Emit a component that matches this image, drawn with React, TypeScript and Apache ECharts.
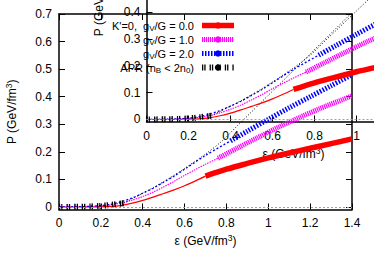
import React, { useEffect, useRef } from "react";
import * as echarts from "echarts";

type Pt = [number, number];

// ---- tick labels ----
const xTickValues = [0, 0.2, 0.4, 0.6, 0.8, 1, 1.2, 1.4];
const mainYTickValues = [0, 0.1, 0.2, 0.3, 0.4, 0.5, 0.6, 0.7];
const insetYTickValues = [0, 0.1, 0.2, 0.3, 0.4, 0.5, 0.6, 0.7, 0.8];

// ---- legend ----
const legendNames = ["K'=0,  gV/G = 0.0", "gV/G = 1.0", "gV/G = 2.0", "APR (nB < 2n0)"];
const legendLabels = ["K'=0,  g{s|V}/G = 0.0", "g{s|V}/G = 1.0", "g{s|V}/G = 2.0", "APR (n{s|B} < 2n{s|0})"];

// ---- series values (epsilon [GeV/fm^3], P [GeV/fm^3]) ----
const gv0Thin: Pt[] = [[0, 0], [0.1, 0], [0.2, 0.001], [0.25, 0.002], [0.3, 0.006], [0.35, 0.014], [0.4, 0.024], [0.45, 0.036], [0.5, 0.049], [0.55, 0.062], [0.6, 0.077], [0.65, 0.094], [0.7, 0.112]];
const gv0Thick: Pt[] = [[0.7, 0.112], [0.8, 0.137], [0.9, 0.158], [1.0, 0.178], [1.1, 0.196], [1.2, 0.213], [1.3, 0.23], [1.4, 0.247]];
const gv1Thin: Pt[] = [[0, 0], [0.1, 0.001], [0.2, 0.004], [0.25, 0.008], [0.3, 0.015], [0.35, 0.025], [0.4, 0.038], [0.45, 0.054], [0.5, 0.073], [0.55, 0.093], [0.6, 0.115], [0.65, 0.135], [0.7, 0.155], [0.76, 0.177]];
const gv1Thick: Pt[] = [[0.76, 0.177], [0.85, 0.213], [0.95, 0.252], [1.05, 0.29], [1.15, 0.325], [1.25, 0.358], [1.4, 0.403]];
const gv2Thin: Pt[] = [[0, 0], [0.1, 0.001], [0.2, 0.005], [0.25, 0.01], [0.3, 0.02], [0.35, 0.033], [0.4, 0.05], [0.45, 0.068], [0.5, 0.09], [0.55, 0.112], [0.6, 0.137], [0.7, 0.187], [0.82, 0.24]];
const gv2Thick: Pt[] = [[0.82, 0.24], [0.9, 0.275], [1.0, 0.318], [1.1, 0.36], [1.2, 0.4], [1.3, 0.44], [1.4, 0.48]];
const aprLow: Pt[] = [[0, 0], [0.1, 0.001], [0.15, 0.002], [0.2, 0.004], [0.25, 0.008], [0.31, 0.014]];
const aprHigh: Pt[] = [[0.31, 0.014], [0.35, 0.03], [0.4, 0.05], [0.45, 0.07], [0.5, 0.092], [0.55, 0.115], [0.6, 0.14], [0.7, 0.192], [0.78, 0.24], [0.85, 0.293], [0.92, 0.345], [1.0, 0.405], [1.1, 0.48], [1.2, 0.555], [1.3, 0.63], [1.4, 0.705], [1.45, 0.74]];

const FONT = "'Liberation Sans', Arial, Helvetica, sans-serif";

const styles: Record<string, { color: string; width: number; type: any }> = {
  gv0Thin: { color: "#ff0000", width: 1.2, type: "solid" },
  gv0Thick: { color: "#ff0000", width: 5.5, type: "solid" },
  gv1Thin: { color: "#ff00ff", width: 1.2, type: [1.5, 1] },
  gv1Thick: { color: "#ff00ff", width: 5, type: [1.2, 0.8] },
  gv2Thin: { color: "#0000ff", width: 1.3, type: [2, 2] },
  gv2Thick: { color: "#0000ff", width: 5, type: [1.5, 1.5] },
  aprLow: { color: "#000000", width: 6, type: [1.3, 1, 1.3, 4] },
  aprHigh: { color: "#000000", width: 1, type: [1, 2] },
};

const zeroLine = {
  silent: true,
  symbol: "none",
  label: { show: false },
  lineStyle: { color: "#a0a0a0", type: [2, 2], width: 1 },
  data: [{ yAxis: 0 }],
};

function makeSeries(axis: number, prefix: string) {
  const defs: [string, Pt[], string | null][] = [
    ["gv0Thin", gv0Thin, null],
    ["gv1Thin", gv1Thin, null],
    ["gv2Thin", gv2Thin, null],
    ["aprHigh", aprHigh, null],
    ["gv0Thick", gv0Thick, legendNames[0]],
    ["gv1Thick", gv1Thick, legendNames[1]],
    ["gv2Thick", gv2Thick, legendNames[2]],
    ["aprLow", aprLow, legendNames[3]],
  ];
  return defs.map(([key, data, lname], i) => {
    const s = styles[key];
    const out: any = {
      type: "line",
      name: prefix === "main" && lname ? lname : prefix + "-" + key,
      data,
      xAxisIndex: axis,
      yAxisIndex: axis,
      symbol: "none",
      showSymbol: false,
      smooth: 0.3,
      silent: true,
      lineStyle: { color: s.color, width: s.width, type: s.type, cap: "butt" },
      itemStyle: { color: s.color },
    };
    if (i === 0) out.markLine = zeroLine;
    return out;
  });
}

const axisLineStyle = { show: true, onZero: false, lineStyle: { color: "#000", width: 1.5 } };
const tickStyle = (vals: number[]) => ({ show: true, inside: true, length: 6, customValues: vals, lineStyle: { color: "#000", width: 1 } });
const labelStyle = (vals: number[], margin: number, show = true) => ({
  show,
  customValues: vals,
  margin,
  color: "#000",
  fontSize: 12,
  fontFamily: FONT,
});
const nameStyle = {
  fontSize: 12,
  color: "#000",
  fontFamily: FONT,
  rich: { sup: { fontSize: 8.5, fontFamily: FONT, color: "#000", padding: [0, 0, 6, 0] } },
};
const AXIS_NAME = "ε (GeV/fm{sup|3})";
const P_NAME = "P (GeV/fm{sup|3})";

export default function App() {
  const ref = useRef<HTMLDivElement>(null);
  useEffect(() => {
    if (!ref.current) return;
    const chart = echarts.init(ref.current, undefined, { renderer: "svg" });
    const option: any = {
      animation: false,
      backgroundColor: "#ffffff",
      grid: [
        { left: 59, top: 14, width: 293, height: 195.5, containLabel: false, outerBoundsMode: "none" },
        { left: 146.5, top: -113.7, width: 294, height: 235.2, containLabel: false, outerBoundsMode: "none" },
      ],
      xAxis: [
        {
          type: "value", gridIndex: 0, min: 0, max: 1.4, position: "bottom",
          axisLine: axisLineStyle, axisTick: tickStyle(xTickValues), axisLabel: labelStyle(xTickValues, 7),
          splitLine: { show: false },
          name: AXIS_NAME, nameLocation: "middle", nameGap: 24, nameTextStyle: nameStyle,
        },
        {
          type: "value", gridIndex: 0, min: 0, max: 1.4, position: "top",
          axisLine: axisLineStyle, axisTick: tickStyle(xTickValues), axisLabel: { show: false },
          splitLine: { show: false },
        },
        {
          type: "value", gridIndex: 1, min: 0, max: 1.4, position: "bottom",
          axisLine: axisLineStyle, axisTick: tickStyle(xTickValues), axisLabel: labelStyle(xTickValues, 8),
          splitLine: { show: false },
          name: AXIS_NAME, nameLocation: "middle", nameGap: 25, nameTextStyle: nameStyle,
        },
      ],
      yAxis: [
        {
          type: "value", gridIndex: 0, min: -0.009, max: 0.7, position: "left",
          axisLine: axisLineStyle, axisTick: tickStyle(mainYTickValues), axisLabel: labelStyle(mainYTickValues, 7),
          splitLine: { show: false },
          name: P_NAME, nameLocation: "middle", nameGap: 40, nameRotate: 90, nameTextStyle: nameStyle,
        },
        {
          type: "value", gridIndex: 0, min: -0.009, max: 0.7, position: "right",
          axisLine: axisLineStyle, axisTick: tickStyle(mainYTickValues), axisLabel: { show: false },
          splitLine: { show: false },
        },
        {
          type: "value", gridIndex: 1, min: -0.0075, max: 0.87, position: "left",
          axisLine: axisLineStyle, axisTick: tickStyle(insetYTickValues), axisLabel: labelStyle(insetYTickValues, 6),
          splitLine: { show: false },
          name: P_NAME, nameLocation: "middle", nameGap: 40, nameRotate: 90, nameTextStyle: nameStyle,
        },
      ],
      legend: {
        data: legendNames,
        orient: "vertical",
        align: "right",
        right: 137,
        top: 20,
        padding: 0,
        itemWidth: 32,
        itemHeight: 8,
        itemGap: 2,
        selectedMode: false,
        lineStyle: { width: "inherit" },
        formatter: (n: string) => legendLabels[legendNames.indexOf(n)],
        textStyle: {
          fontSize: 11,
          color: "#000",
          fontFamily: FONT,
          padding: [0, 3, 0, 0],
          rich: { s: { fontSize: 8, fontFamily: FONT, color: "#000", padding: [5, 0, 0, 0] } },
        },
      },
      series: [...makeSeries(0, "main"), ...makeSeries(2, "inset")],
    };
    chart.setOption(option);
    return () => chart.dispose();
  }, []);
  return <div ref={ref} style={{ position: "absolute", left: 0, top: 0, width: 374, height: 261 }} />;
}
